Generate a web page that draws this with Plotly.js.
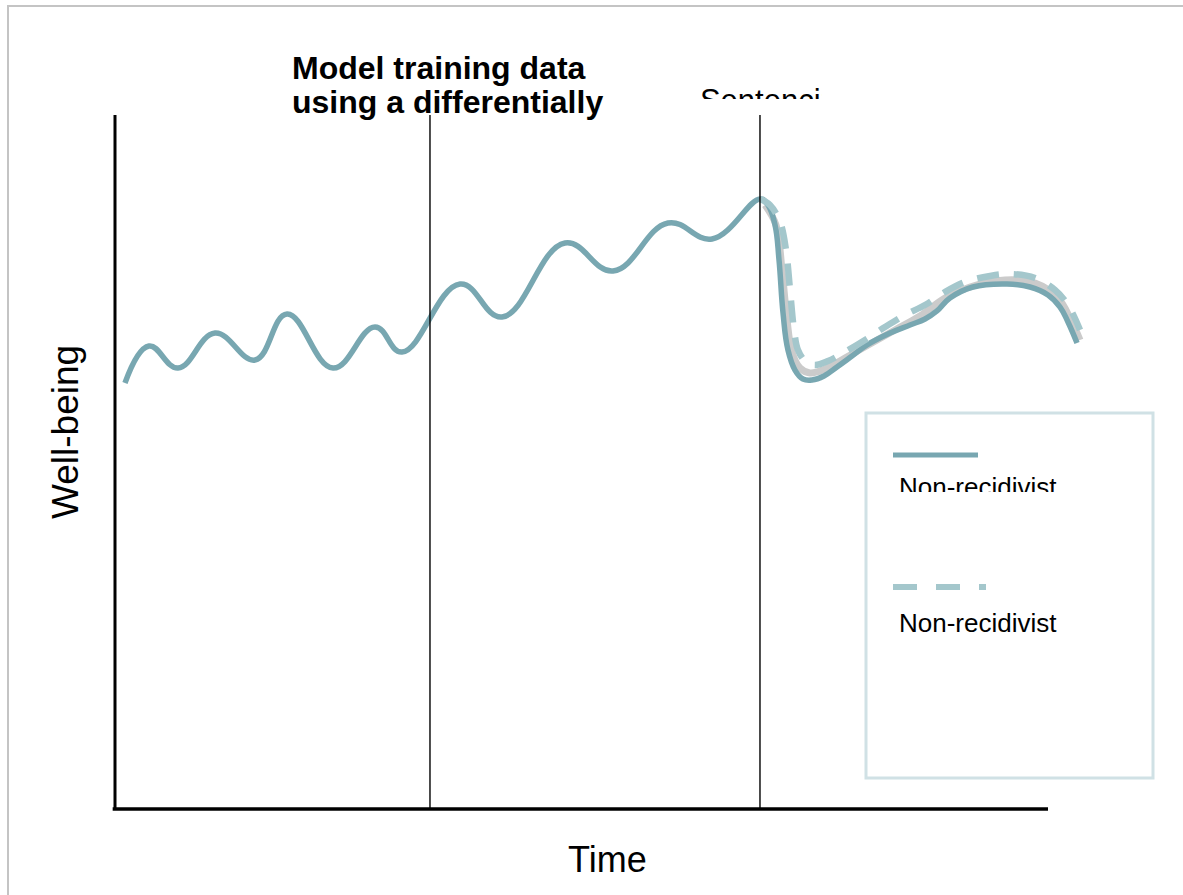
<!DOCTYPE html>
<html><head><meta charset="utf-8">
<script src="https://cdn.plot.ly/plotly-3.0.1.min.js"></script>
<style>html,body{margin:0;padding:0;background:#fff;overflow:hidden}</style>
</head><body><div id="chart" style="width:1183px;height:895px"></div>
<script>
// ---- data (time units 0..100, well-being units 0..100) ----
const timeSolid = [1.07,3.64,6.75,10.72,15.01,18.44,23.37,27.87,30.76,36.98,41.48,48.23,53.38,59.27,63.99,69.13,
  69.99,70.74,71.17,71.60,72.13,72.88,73.74,74.71,75.99,77.38,78.99,80.60,83.07,85.21,86.82,88.10,89.49,91.96,95.61,98.07,100.0,101.29,102.14,103.11];
const wellbeingSolid = [61.33,66.67,63.49,68.54,64.65,71.28,63.49,69.41,65.80,75.61,70.85,81.53,77.49,84.42,82.11,87.88,
  87.01,84.13,79.08,71.43,66.09,63.20,61.90,61.76,62.34,63.64,65.22,66.81,68.54,69.70,70.56,71.72,73.59,75.18,75.61,75.18,74.03,72.29,70.13,67.10];

const timeDashed = [69.13,70.20,71.28,71.92,72.35,72.78,73.20,74.06,75.03,76.42,78.24,80.39,82.53,84.67,86.82,88.96,91.10,93.78,95.93,98.61,100.75,102.14,103.43];
const wellbeingDashed = [87.88,87.01,84.56,80.52,74.75,68.98,66.09,64.36,63.92,64.50,65.80,67.53,69.41,71.14,72.58,74.46,75.90,76.77,77.06,76.48,74.75,72.58,68.98];

const timeGray = [69.67,70.85,71.49,72.03,72.56,73.42,74.49,76.10,78.24,80.92,83.60,86.28,88.96,91.64,95.39,98.61,101.07,102.36,103.43];
const wellbeingGray = [87.01,84.13,77.63,70.42,65.80,63.49,62.77,63.35,64.94,66.96,68.98,71.00,73.59,75.18,76.19,75.76,73.59,70.71,67.53];

const eventTimes = [33.76, 69.13];
const axisMaxTime = 100;
const axisMaxWellbeing = 100;

const titleLines = ['Model training data', 'using a differentially'];
const eventLabel = 'Sentencing';
const legendLabels = ['Non-recidivist', 'Non-recidivist'];
const xTitle = 'Time';
const yTitle = 'Well-being';

// ---- styling / geometry ----
const W = 1183, H = 895;
const X0 = 115, XS = 9.33;   // px of time 0, px per time unit
const Y0 = 808, YS = 6.93;   // px of well-being 0, px per unit
const px = x => x / W;
const py = y => 1 - y / H;
const FONT = 'Liberation Sans, Arial, Helvetica, sans-serif';
const C_SOLID = '#78a7b1', C_DASH = '#a4c7cc', C_GRAY = '#cbcbcb';

const traces = [
  {x: timeGray, y: wellbeingGray, mode: 'lines', line: {color: C_GRAY, width: 7, shape: 'spline', smoothing: 1}, hoverinfo: 'skip'},
  {x: timeSolid, y: wellbeingSolid, mode: 'lines', line: {color: C_SOLID, width: 5.5, shape: 'spline', smoothing: 1.2}, hoverinfo: 'skip'},
  {x: timeDashed, y: wellbeingDashed, mode: 'lines', line: {color: C_DASH, width: 6.5, shape: 'spline', smoothing: 1, dash: '22px,15px'}, hoverinfo: 'skip'},
  // clipped event label
  {x: [(700 - 690) / 133], y: [-0.1], xaxis: 'x2', yaxis: 'y2', mode: 'text', text: [eventLabel], textposition: 'middle right',
   textfont: {family: FONT, size: 31, color: '#000'}, cliponaxis: true, hoverinfo: 'skip'},
  // clipped first legend label
  {x: [(899 - 880) / 240], y: [(492 - 489.5) / 32], xaxis: 'x3', yaxis: 'y3', mode: 'text', text: [legendLabels[0]], textposition: 'middle right',
   textfont: {family: FONT, size: 26, color: '#000'}, cliponaxis: true, hoverinfo: 'skip'}
];

const shapes = [
  // outer frame
  {type: 'rect', xref: 'paper', yref: 'paper', x0: px(8), x1: 1.2, y0: -0.2, y1: py(6), line: {color: '#c4c4c4', width: 2}, layer: 'below'},
  // axis lines
  {type: 'line', xref: 'x', yref: 'y', x0: -0.25, x1: axisMaxTime, y0: -0.15, y1: -0.15, line: {color: '#000', width: 3.5}, layer: 'above'},
  {type: 'line', xref: 'x', yref: 'y', x0: 0, x1: 0, y0: -0.3, y1: axisMaxWellbeing, line: {color: '#000', width: 3}, layer: 'above'},
  // legend box
  {type: 'rect', xref: 'paper', yref: 'paper', x0: px(866), x1: px(1153), y0: py(778), y1: py(413), line: {color: '#d0e1e5', width: 3}, layer: 'above'},
  {type: 'line', xref: 'paper', yref: 'paper', x0: px(893), x1: px(978), y0: py(455), y1: py(455), line: {color: C_SOLID, width: 5}},
  {type: 'line', xref: 'paper', yref: 'paper', x0: px(893), x1: px(986), y0: py(587), y1: py(587), line: {color: C_DASH, width: 6, dash: '24px,19px'}}
];
eventTimes.forEach(t => shapes.push({type: 'line', xref: 'x', yref: 'y', x0: t, x1: t, y0: 0, y1: axisMaxWellbeing, line: {color: '#000', width: 1.4}, layer: 'above'}));

const annotations = [
  {xref: 'paper', yref: 'paper', x: px(290), y: py(68), xanchor: 'left', yanchor: 'middle', showarrow: false, text: '<b>' + titleLines[0] + '</b>', font: {family: FONT, size: 32, color: '#000'}},
  {xref: 'paper', yref: 'paper', x: px(290), y: py(102), xanchor: 'left', yanchor: 'middle', showarrow: false, text: '<b>' + titleLines[1] + '</b>', font: {family: FONT, size: 32, color: '#000'}},
  {xref: 'paper', yref: 'paper', x: px(897), y: py(623), xanchor: 'left', yanchor: 'middle', showarrow: false, text: legendLabels[1], font: {family: FONT, size: 26, color: '#000'}},
  {xref: 'paper', yref: 'paper', x: px(607), y: py(859), xanchor: 'center', yanchor: 'middle', showarrow: false, text: xTitle, font: {family: FONT, size: 36, color: '#000'}},
  {xref: 'paper', yref: 'paper', x: px(66), y: py(432), xanchor: 'center', yanchor: 'middle', showarrow: false, textangle: -90, text: yTitle, font: {family: FONT, size: 37, color: '#000'}}
];

const hidden = {visible: false, fixedrange: true};
const layout = {
  width: W, height: H, margin: {l: 0, r: 0, t: 0, b: 0},
  paper_bgcolor: '#fff', plot_bgcolor: 'rgba(0,0,0,0)', showlegend: false,
  xaxis: Object.assign({domain: [0, 1], range: [-X0 / XS, (W - X0) / XS]}, hidden),
  yaxis: Object.assign({domain: [0, 1], range: [-(H - Y0) / YS, Y0 / YS]}, hidden),
  xaxis2: Object.assign({domain: [px(690), px(822)], range: [0, 1], anchor: 'y2'}, hidden),
  yaxis2: Object.assign({domain: [py(99), py(60)], range: [0, 1], anchor: 'x2'}, hidden),
  xaxis3: Object.assign({domain: [px(880), px(1120)], range: [0, 1], anchor: 'y3'}, hidden),
  yaxis3: Object.assign({domain: [py(492), py(460)], range: [0, 1], anchor: 'x3'}, hidden),
  shapes: shapes, annotations: annotations
};
Plotly.newPlot('chart', traces, layout, {staticPlot: true, displayModeBar: false});
</script></body></html>
